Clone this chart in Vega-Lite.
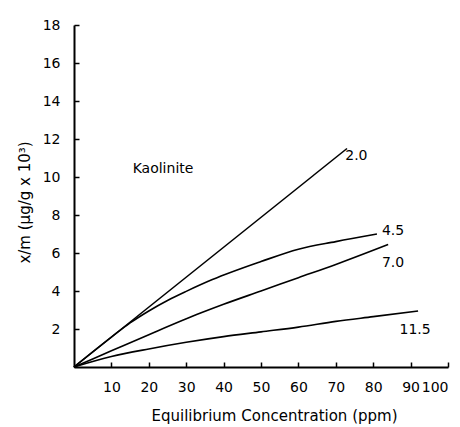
{
  "$schema": "https://vega.github.io/schema/vega-lite/v6.json",
  "autosize": {"type": "none"},
  "padding": {"left": 74, "top": 25, "right": 12, "bottom": 60},
  "width": 374,
  "height": 342,
  "background": "white",
  "config": {
    "view": {"stroke": null},
    "font": "DejaVu Sans",
    "axis": {"grid": false, "domainColor": "black", "domainWidth": 2, "tickColor": "black", "tickWidth": 1.5, "labelColor": "black", "titleColor": "black", "labelFont": "DejaVu Sans", "titleFont": "DejaVu Sans", "labelFontSize": 14, "titleFontSize": 15, "titleFontWeight": "normal"}
  },
  "datasets": {
    "curves": [
      {"series": "2.0", "x": 0, "y": 0},
      {"series": "2.0", "x": 73, "y": 11.5},
      {"series": "4.5", "x": 0, "y": 0},
      {"series": "4.5", "x": 10, "y": 1.57},
      {"series": "4.5", "x": 15, "y": 2.32},
      {"series": "4.5", "x": 20, "y": 2.95},
      {"series": "4.5", "x": 25, "y": 3.5},
      {"series": "4.5", "x": 30, "y": 3.98},
      {"series": "4.5", "x": 37, "y": 4.6},
      {"series": "4.5", "x": 50, "y": 5.55},
      {"series": "4.5", "x": 60, "y": 6.2},
      {"series": "4.5", "x": 70, "y": 6.6},
      {"series": "4.5", "x": 81, "y": 7.0},
      {"series": "7.0", "x": 0, "y": 0},
      {"series": "7.0", "x": 10, "y": 0.85},
      {"series": "7.0", "x": 20, "y": 1.7},
      {"series": "7.0", "x": 34, "y": 2.85},
      {"series": "7.0", "x": 40, "y": 3.3},
      {"series": "7.0", "x": 50, "y": 4.0},
      {"series": "7.0", "x": 60, "y": 4.7},
      {"series": "7.0", "x": 70, "y": 5.4},
      {"series": "7.0", "x": 84, "y": 6.45},
      {"series": "11.5", "x": 0, "y": 0},
      {"series": "11.5", "x": 10, "y": 0.55},
      {"series": "11.5", "x": 20, "y": 0.95},
      {"series": "11.5", "x": 30, "y": 1.3},
      {"series": "11.5", "x": 40, "y": 1.6},
      {"series": "11.5", "x": 50, "y": 1.85},
      {"series": "11.5", "x": 60, "y": 2.1},
      {"series": "11.5", "x": 70, "y": 2.4},
      {"series": "11.5", "x": 80, "y": 2.65},
      {"series": "11.5", "x": 92, "y": 2.95}
    ],
    "labels": [
      {"text": "2.0", "x": 75.5, "y": 11.1},
      {"text": "4.5", "x": 85.3, "y": 7.15},
      {"text": "7.0", "x": 85.3, "y": 5.5},
      {"text": "11.5", "x": 91.2, "y": 1.95},
      {"text": "Kaolinite", "x": 23.8, "y": 10.4}
    ]
  },
  "layer": [
    {
      "data": {"name": "curves"},
      "mark": {"type": "line", "color": "black", "strokeWidth": 1.6, "interpolate": "monotone"},
      "encoding": {
        "x": {"field": "x", "type": "quantitative", "scale": {"domain": [0, 100], "nice": false},
          "axis": {"title": "Equilibrium Concentration (ppm)", "values": [10, 20, 30, 40, 50, 60, 70, 80, 90, 100], "tickSize": -5, "labelPadding": 18, "titlePadding": 14, "titleX": 200}},
        "y": {"field": "y", "type": "quantitative", "scale": {"domain": [0, 18], "nice": false},
          "axis": {"title": "x/m (μg/g x 10³)", "values": [2, 4, 6, 8, 10, 12, 14, 16, 18], "tickSize": -5, "labelPadding": 19, "titlePadding": 10, "titleY": 177}},
        "detail": {"field": "series"}
      }
    },
    {
      "data": {"name": "labels"},
      "mark": {"type": "text", "color": "black", "fontSize": 14, "font": "DejaVu Sans"},
      "encoding": {
        "x": {"field": "x", "type": "quantitative"},
        "y": {"field": "y", "type": "quantitative"},
        "text": {"field": "text"}
      }
    }
  ]
}
